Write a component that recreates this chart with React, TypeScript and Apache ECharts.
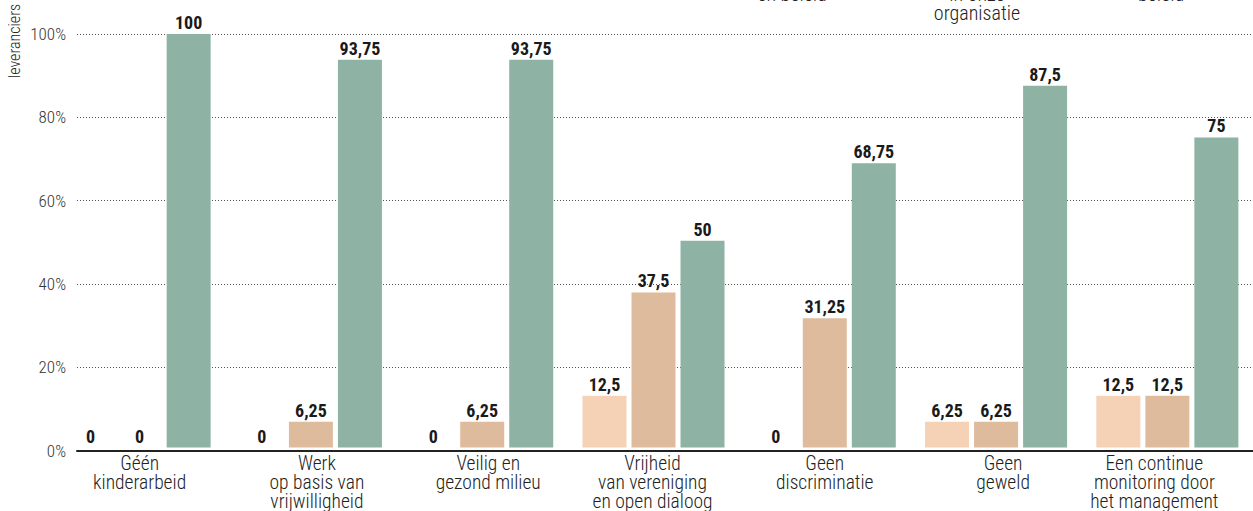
import React, { useEffect, useRef } from "react";
import * as echarts from "echarts";

const categories = [
  "Géén\nkinderarbeid",
  "Werk\nop basis van\nvrijwilligheid",
  "Veilig en\ngezond milieu",
  "Vrijheid\nvan vereniging\nen open dialoog",
  "Geen\ndiscriminatie",
  "Geen\ngeweld",
  "Een continue\nmonitoring door\nhet management",
];
const labelShift = [0, 6, 6, -1, 0, 7, -13];
const seriesLight = [0, 0, 0, 12.5, 0, 6.25, 12.5];
const seriesTan = [0, 6.25, 6.25, 37.5, 31.25, 6.25, 12.5];
const seriesGreen = [100, 93.75, 93.75, 50, 68.75, 87.5, 75];
const yTicks = [0, 20, 40, 60, 80, 100];

const FONT = "'Roboto Condensed', 'Roboto', sans-serif";

export default function App() {
  const ref = useRef<HTMLDivElement>(null);
  useEffect(() => {
    if (!ref.current) return;
    const chart = echarts.init(ref.current, undefined, { renderer: "svg" });
    const fmt = (v: number) => String(v).replace(".", ",");
    const mkSeries = (name: string, data: number[], color: string) => ({
      type: "bar",
      name,
      data,
      xAxisIndex: 1,
      yAxisIndex: 1,
      barWidth: 44,
      barGap: "11.4%",
      itemStyle: { color },
      label: {
        show: true,
        position: "top",
        distance: 2.5,
        fontFamily: FONT,
        fontWeight: "bold",
        fontSize: 18,
        color: "#1a1a1a",
        formatter: (p: any) => fmt(p.value),
      },
    });
    chart.setOption({
      animation: false,
      grid: [
        { left: 77, right: 0, top: 34, bottom: 60.5 },
        { left: 54, right: 0, top: 34, bottom: 60.5 },
      ],
      xAxis: [
        {
          gridIndex: 0,
          type: "category",
          data: [""],
          axisLine: { show: true, lineStyle: { color: "#222", width: 2 } },
          axisTick: { show: false },
          axisLabel: { show: false },
        },
        {
          gridIndex: 1,
          type: "category",
          data: categories.map((c, i) => ({
            value: c,
            textStyle: {
              padding: labelShift[i] >= 0 ? [0, 0, 0, 2 * labelShift[i]] : [0, -2 * labelShift[i], 0, 0],
            },
          })),
          axisLine: { show: false },
          axisTick: { show: false },
          axisLabel: {
            interval: 0,
            margin: 6,
            fontFamily: FONT,
            fontWeight: 300,
            fontSize: 19.5,
            lineHeight: 19,
            color: "#222",
          },
        },
      ],
      yAxis: [
        {
          gridIndex: 0,
          type: "value",
          min: yTicks[0],
          max: yTicks[yTicks.length - 1],
          interval: 20,
          axisLine: { show: false },
          axisTick: { show: false },
          axisLabel: {
            margin: 11,
            fontFamily: FONT,
            fontWeight: 300,
            fontSize: 17,
            color: "#333",
            formatter: "{value}%",
          },
          splitLine: {
            show: true,
            lineStyle: { type: [1, 2], color: "#555", width: 1 },
          },
        },
        {
          gridIndex: 1,
          type: "value",
          min: 0,
          max: 100,
          show: false,
          splitLine: { show: false },
        },
      ],
      graphic: [
        {
          type: "text",
          x: 14,
          y: 41,
          rotation: Math.PI / 2,
          style: {
            text: "leveranciers",
            fontFamily: FONT,
            fontWeight: 300,
            fontSize: 16,
            fill: "#222",
            textAlign: "center",
            textVerticalAlign: "middle",
          },
        },
        {
          type: "text",
          x: 792,
          y: 3.6,
          style: {
            text: "Geïmplementeerd\nen beleid",
            fontFamily: FONT,
            fontWeight: 300,
            fontSize: 20,
            lineHeight: 19,
            fill: "#222",
            textAlign: "center",
            textVerticalAlign: "bottom",
          },
        },
        {
          type: "text",
          x: 977,
          y: 22.6,
          style: {
            text: "Ingebed\nin onze\norganisatie",
            fontFamily: FONT,
            fontWeight: 300,
            fontSize: 20,
            lineHeight: 19,
            fill: "#222",
            textAlign: "center",
            textVerticalAlign: "bottom",
          },
        },
        {
          type: "text",
          x: 1161,
          y: 3.6,
          style: {
            text: "Vastgelegd\nbeleid",
            fontFamily: FONT,
            fontWeight: 300,
            fontSize: 20,
            lineHeight: 19,
            fill: "#222",
            textAlign: "center",
            textVerticalAlign: "bottom",
          },
        },
      ],
      series: [
        mkSeries("Geïmplementeerd en beleid", seriesLight, "#F5D1B6"),
        mkSeries("Ingebed in onze organisatie", seriesTan, "#DFBB9E"),
        mkSeries("Vastgelegd beleid", seriesGreen, "#8EB3A4"),
      ],
    });
    return () => chart.dispose();
  }, []);
  return (
    <div
      ref={ref}
      style={{ position: "fixed", left: 0, top: 0, width: 1253, height: 511, background: "#fff" }}
    />
  );
}
